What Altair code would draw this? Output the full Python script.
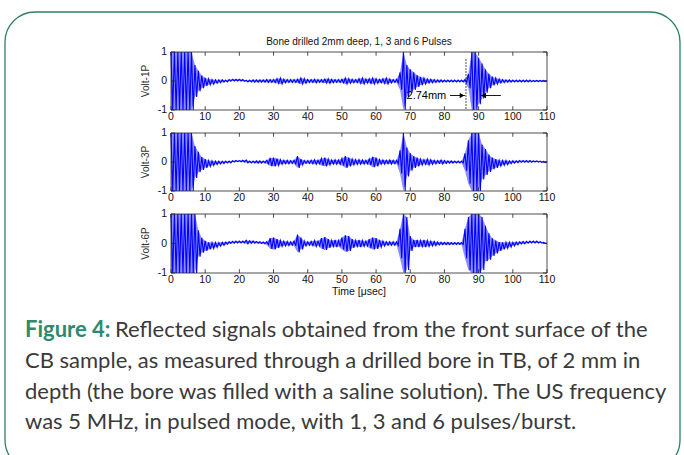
import altair as alt
import pandas as pd

# ---------------- data ----------------
TIME_US = list(range(111))  # 0 .. 110 microseconds, 1 us steps

# envelope amplitude (half peak-to-peak, volts) per microsecond
AMP_1P = [1, 1, 1, 1, 1, 1, 1,
          0.55, 0.35, 0.22, 0.14,
          0.1, 0.08, 0.06, 0.05, 0.04, 0.03, 0.03, 0.03, 0.03, 0.03,
          0.03, 0.03, 0.03, 0.04, 0.04, 0.04, 0.04, 0.05, 0.05, 0.05,
          0.08, 0.1, 0.06, 0.05, 0.05, 0.05, 0.06, 0.1, 0.08, 0.05,
          0.05, 0.06, 0.05, 0.05, 0.07, 0.08, 0.06, 0.05, 0.05, 0.06,
          0.1, 0.08, 0.06, 0.05, 0.08, 0.1, 0.07, 0.08, 0.1, 0.08,
          0.06, 0.08, 0.1, 0.07, 0.05, 0.06, 0.3, 1, 0.55, 0.4,
          0.3, 0.2, 0.14, 0.1, 0.07, 0.06, 0.05, 0.04, 0.04, 0.03,
          0.03, 0.03, 0.03, 0.03, 0.03, 0.05, 0.25, 1, 1, 0.8,
          0.6, 0.4, 0.25, 0.15, 0.1, 0.07, 0.05, 0.04, 0.04, 0.03,
          0.03, 0.03, 0.03, 0.03, 0.03, 0.02, 0.02, 0.02, 0.02, 0.02]

AMP_3P = [1, 1, 1, 1, 1, 1, 1,
          0.55, 0.35, 0.22, 0.15,
          0.1, 0.08, 0.06, 0.05, 0.04, 0.03, 0.03, 0.02, 0.02, 0.02,
          0.03, 0.05, 0.03, 0.03, 0.04, 0.04, 0.03, 0.06, 0.14, 0.15,
          0.12, 0.08, 0.06, 0.06, 0.05, 0.06, 0.2, 0.1, 0.05, 0.05,
          0.06, 0.08, 0.06, 0.12, 0.15, 0.1, 0.07, 0.08, 0.07, 0.12,
          0.2, 0.15, 0.1, 0.08, 0.08, 0.07, 0.06, 0.1, 0.18, 0.15,
          0.08, 0.07, 0.06, 0.07, 0.06, 0.06, 0.4, 1, 0.5, 0.3,
          0.2, 0.15, 0.1, 0.08, 0.1, 0.08, 0.06, 0.05, 0.07, 0.05,
          0.04, 0.04, 0.03, 0.03, 0.03, 0.3, 0.75, 1, 1, 1,
          0.6, 0.45, 0.3, 0.2, 0.15, 0.1, 0.08, 0.07, 0.05, 0.04,
          0.03, 0.03, 0.03, 0.03, 0.03, 0.02, 0.02, 0.02, 0.02, 0.02]

AMP_6P = [1, 1, 1, 1, 1, 1, 1, 1,
          0.45, 0.25, 0.17,
          0.12, 0.1, 0.08, 0.06, 0.05, 0.04, 0.03, 0.03, 0.03, 0.03,
          0.03, 0.06, 0.04, 0.04, 0.03, 0.03, 0.03, 0.05, 0.18, 0.2,
          0.15, 0.1, 0.08, 0.07, 0.06, 0.08, 0.3, 0.2, 0.08, 0.06,
          0.07, 0.1, 0.08, 0.18, 0.22, 0.15, 0.1, 0.12, 0.1, 0.2,
          0.28, 0.25, 0.15, 0.1, 0.12, 0.1, 0.08, 0.15, 0.2, 0.18,
          0.12, 0.08, 0.06, 0.06, 0.06, 0.06, 0.5, 1, 0.9, 0.25,
          0.12, 0.12, 0.1, 0.12, 0.1, 0.08, 0.07, 0.05, 0.04, 0.04,
          0.04, 0.03, 0.03, 0.03, 0.03, 0.5, 0.9, 1, 1, 1,
          0.9, 0.6, 0.45, 0.3, 0.22, 0.15, 0.12, 0.1, 0.08, 0.06,
          0.05, 0.04, 0.04, 0.03, 0.03, 0.03, 0.03, 0.02, 0.02, 0.02]

# slow baseline drift (volts) where it is visibly off zero; elsewhere 0
BASE_1P = {9: -0.03, 10: -0.03, 11: -0.03, 12: -0.03, 13: -0.02, 14: -0.01,
           17: 0.02, 18: 0.03, 19: 0.03, 20: 0.03, 21: 0.02}
BASE_3P = {9: -0.05, 10: -0.05, 11: -0.05, 12: -0.04, 13: -0.03, 14: -0.02, 15: -0.01,
           18: 0.02, 19: 0.03, 20: 0.03, 21: 0.03, 22: 0.02,
           93: -0.04, 94: -0.05, 95: -0.05, 96: -0.04, 97: -0.03, 98: -0.02, 99: -0.01,
           101: 0.01, 102: 0.02, 103: 0.02, 104: 0.02, 105: 0.02, 106: 0.02, 107: 0.02, 108: 0.01}
BASE_6P = {9: -0.06, 10: -0.08, 11: -0.08, 12: -0.07, 13: -0.05, 14: -0.03, 15: -0.01,
           16: 0.01, 17: 0.03, 18: 0.04, 19: 0.05, 20: 0.05, 21: 0.05, 22: 0.05, 23: 0.05,
           24: 0.05, 25: 0.04, 26: 0.03, 27: 0.02, 28: 0.01,
           93: -0.1, 94: -0.12, 95: -0.12, 96: -0.1, 97: -0.08, 98: -0.06, 99: -0.04, 100: -0.02,
           102: 0.02, 103: 0.03, 104: 0.04, 105: 0.05, 106: 0.05, 107: 0.05, 108: 0.04, 109: 0.02}

PANEL_NAMES = ["Volt-1P", "Volt-3P", "Volt-6P"]
X_TICKS = [0, 10, 20, 30, 40, 50, 60, 70, 80, 90, 100, 110]
Y_TICKS = [-1, 0, 1]
Y_TICK_LABELS = ["-1", "0", "1"]

TITLE = "Bone drilled 2mm deep, 1, 3 and 6 Pulses"
X_TITLE = "Time [\u03bcsec]"

# annotation in the 1-pulse panel
MARKER_T = 86.3
MARKER_Y = [0.75, -1]
ANNOT_TEXT = "2.74mm"
ANNOT_TEXT_T = 68.9
ANNOT_Y = -0.5
ARROW_L = [81.6, 86.0]   # from, head
ARROW_R = [96.5, 90.6]   # from, head

CAPTION_LABEL = "Figure 4:"
CAPTION_LINES = [
    "Reflected signals obtained from the front surface of the",
    "CB sample, as measured through a drilled bore in TB, of 2 mm in",
    "depth (the bore was filled with a saline solution). The US frequency",
    "was 5 MHz, in pulsed mode, with 1, 3 and 6 pulses/burst.",
]

# ---------------- styling / layout ----------------
FONT = "Liberation Sans"
CAP_FONT = "Lato"
CAP_SIZE = 22
BLUE = "#0000ff"
GREEN = "#2e8a6c"
BORDER = "#2f7f68"
TEXT_GRAY = "#3a3a3a"
X_RANGE = [171, 547]
Y_RANGES = [[110, 52], [191, 133], [273, 214]]


def trace(amp, base):
    rows = []
    for t, a in zip(TIME_US, amp):
        b = base.get(t, 0.0)
        rows.append({"t": t, "v": min(1.0, b + a)})
        if t < TIME_US[-1]:
            rows.append({"t": t + 0.5, "v": max(-1.0, b - a)})
    return pd.DataFrame(rows)


def envelope(amp, base):
    return pd.DataFrame({
        "t": TIME_US,
        "hi": [min(1.0, base.get(t, 0.0) + a) for t, a in zip(TIME_US, amp)],
        "lo": [max(-1.0, base.get(t, 0.0) - a) for t, a in zip(TIME_US, amp)],
    })


one = pd.DataFrame({"k": [0]})


def panel(amp, base, name, yrange, first=False, last=False):
    xs = alt.Scale(domain=[0, 110], range=X_RANGE, nice=False, zero=False)
    ys = alt.Scale(domain=[-1, 1], range=yrange, nice=False, zero=False)

    env = alt.Chart(envelope(amp, base)).mark_area(
        color=BLUE, opacity=0.45
    ).encode(
        x=alt.X("t:Q", scale=xs, axis=None),
        y=alt.Y("lo:Q", scale=ys, axis=None), y2="hi:Q",
    )

    sig = alt.Chart(trace(amp, base)).mark_line(
        color=BLUE, strokeWidth=1.1, strokeJoin="miter"
    ).encode(
        x=alt.X("t:Q", scale=xs, axis=None),
        y=alt.Y("v:Q", scale=ys, axis=None),
    )

    frame = alt.Chart(one).mark_rect(
        fillOpacity=0, stroke="#222222", strokeWidth=0.8
    ).encode(
        x=alt.X(datum=0, scale=xs, axis=None), x2=alt.X2(datum=110),
        y=alt.Y(datum=-1, scale=ys, axis=None), y2=alt.Y2(datum=1),
    )

    xt = pd.DataFrame({"t": X_TICKS, "label": [str(v) for v in X_TICKS]})
    yt = pd.DataFrame({"v": Y_TICKS, "label": Y_TICK_LABELS})

    tick_top = alt.Chart(xt).mark_rule(color="#222222", strokeWidth=0.8).encode(
        x=alt.X("t:Q", scale=xs, axis=None),
        y=alt.Y(datum=1, scale=ys, axis=None), y2=alt.Y2(datum=0.87))
    tick_bot = alt.Chart(xt).mark_rule(color="#222222", strokeWidth=0.8).encode(
        x=alt.X("t:Q", scale=xs, axis=None),
        y=alt.Y(datum=-1, scale=ys, axis=None), y2=alt.Y2(datum=-0.87))
    tick_l = alt.Chart(yt).mark_rule(color="#222222", strokeWidth=0.8).encode(
        x=alt.X(datum=0, scale=xs, axis=None), x2=alt.X2(datum=1.2),
        y=alt.Y("v:Q", scale=ys, axis=None))
    tick_r = alt.Chart(yt).mark_rule(color="#222222", strokeWidth=0.8).encode(
        x=alt.X(datum=110, scale=xs, axis=None), x2=alt.X2(datum=108.8),
        y=alt.Y("v:Q", scale=ys, axis=None))

    xlab = alt.Chart(xt).mark_text(
        baseline="top", dy=2, fontSize=10.5, font=FONT, color="#111111"
    ).encode(
        x=alt.X("t:Q", scale=xs, axis=None),
        y=alt.Y(datum=-1, scale=ys, axis=None),
        text="label:N")
    ylab = alt.Chart(yt).mark_text(
        align="right", baseline="middle", dx=-4, fontSize=10.5, font=FONT, color="#111111"
    ).encode(
        x=alt.X(datum=0, scale=xs, axis=None),
        y=alt.Y("v:Q", scale=ys, axis=None),
        text="label:N")
    ytitle = alt.Chart(pd.DataFrame({"s": [name]})).mark_text(
        angle=270, align="center", baseline="middle", fontSize=10, font=FONT, color="#333333"
    ).encode(
        x=alt.value(146),
        y=alt.Y(datum=0, scale=ys, axis=None),
        text="s:N")

    layers = [env, sig, frame, tick_top, tick_bot, tick_l, tick_r, xlab, ylab, ytitle]

    if first:
        title = alt.Chart(pd.DataFrame({"s": [TITLE]})).mark_text(
            baseline="bottom", dy=-5, fontSize=10, font=FONT, color="#111111"
        ).encode(
            x=alt.X(datum=55, scale=xs, axis=None),
            y=alt.Y(datum=1, scale=ys, axis=None),
            text="s:N")
        marker = alt.Chart(pd.DataFrame({"t": [MARKER_T], "y1": [MARKER_Y[0]], "y2": [MARKER_Y[1]]})).mark_rule(
            color="black", strokeWidth=0.9, strokeDash=[1.5, 1.5]
        ).encode(
            x=alt.X("t:Q", scale=xs, axis=None),
            y=alt.Y("y1:Q", scale=ys, axis=None), y2="y2:Q")
        atext = alt.Chart(pd.DataFrame({"s": [ANNOT_TEXT]})).mark_text(
            align="left", baseline="middle", fontSize=11, font=FONT, color="black"
        ).encode(
            x=alt.X(datum=ANNOT_TEXT_T, scale=xs, axis=None),
            y=alt.Y(datum=ANNOT_Y, scale=ys, axis=None),
            text="s:N")
        arr = pd.DataFrame({"a": [ARROW_L[0], ARROW_R[0]], "b": [ARROW_L[1], ARROW_R[1]]})
        shafts = alt.Chart(arr).mark_rule(color="black", strokeWidth=0.9).encode(
            x=alt.X("a:Q", scale=xs, axis=None), x2="b:Q",
            y=alt.Y(datum=ANNOT_Y, scale=ys, axis=None))
        heads_r = alt.Chart(arr.iloc[[0]]).mark_point(
            shape="triangle-right", filled=True, color="black", size=28, opacity=1, xOffset=-3
        ).encode(
            x=alt.X("b:Q", scale=xs, axis=None),
            y=alt.Y(datum=ANNOT_Y, scale=ys, axis=None))
        heads_l = alt.Chart(arr.iloc[[1]]).mark_point(
            shape="triangle-left", filled=True, color="black", size=28, opacity=1, xOffset=3
        ).encode(
            x=alt.X("b:Q", scale=xs, axis=None),
            y=alt.Y(datum=ANNOT_Y, scale=ys, axis=None))
        layers += [title, marker, atext, shafts, heads_r, heads_l]

    if last:
        xtitle = alt.Chart(pd.DataFrame({"s": [X_TITLE]})).mark_text(
            baseline="top", dy=14, fontSize=10.5, font=FONT, color="#111111"
        ).encode(
            x=alt.X(datum=55, scale=xs, axis=None),
            y=alt.Y(datum=-1, scale=ys, axis=None),
            text="s:N")
        layers.append(xtitle)

    return alt.layer(*layers)


p1 = panel(AMP_1P, BASE_1P, PANEL_NAMES[0], Y_RANGES[0], first=True)
p2 = panel(AMP_3P, BASE_3P, PANEL_NAMES[1], Y_RANGES[1])
p3 = panel(AMP_6P, BASE_6P, PANEL_NAMES[2], Y_RANGES[2], last=True)

border = alt.Chart(one).mark_rect(
    fillOpacity=0, stroke=BORDER, strokeWidth=1.3, cornerRadius=30
).encode(x=alt.value(5), x2=alt.value(680), y=alt.value(12), y2=alt.value(470))


def cap_text(s, x, y, bold=False, color=TEXT_GRAY):
    return alt.Chart(pd.DataFrame({"s": [s]})).mark_text(
        align="left", baseline="middle", fontSize=CAP_SIZE, font=CAP_FONT,
        fontWeight="bold" if bold else "normal", color=color
    ).encode(x=alt.value(x), y=alt.value(y), text="s:N")


LINE_Y = [330, 361, 392, 422]
LINE_X = [115, 25, 25, 25]
cap_layers = [cap_text(CAPTION_LABEL, 25, LINE_Y[0], bold=True, color=GREEN)]
for line, xx, yy in zip(CAPTION_LINES, LINE_X, LINE_Y):
    cap_layers.append(cap_text(line, xx, yy))

chart = alt.layer(border, p1, p2, p3, *cap_layers).resolve_scale(
    y="independent"
).properties(
    width=684, height=455, padding=0,
    autosize=alt.AutoSizeParams(type="none"),
    background="white",
).configure_view(strokeWidth=0)

chart.save("out.html", embed_options={"renderer": "svg", "actions": False})
